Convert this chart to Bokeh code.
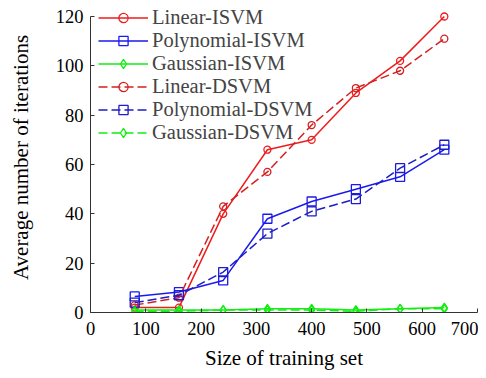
from bokeh.plotting import figure
from bokeh.models import Range1d, Legend, LegendItem, FixedTicker
from bokeh.embed import file_html
from bokeh.resources import INLINE

sizes = [80, 160, 240, 320, 400, 480, 560, 640]
linear_isvm = [2, 2, 40, 66, 70, 89, 102, 120]
poly_isvm = [6.5, 8.3, 13, 38, 45, 50, 55, 66]
gauss_isvm = [1, 1, 1, 1.5, 1.5, 1, 1.5, 2]
linear_dsvm = [3, 6, 43, 57, 76, 91, 98, 111]
poly_dsvm = [4, 7, 16.4, 32, 41, 46, 58.5, 68]
gauss_dsvm = [0.5, 0.5, 1, 1, 1, 0.5, 1.5, 1.5]

x_ticks = [0, 100, 200, 300, 400, 500, 600, 700]
y_ticks = [0, 20, 40, 60, 80, 100, 120]

FONT = "Liberation Serif"
RED = "#ee1c1c"
RED_D = "#d42020"
BLUE = "#1a1aee"
BLUE_D = "#1c1cc8"
GREEN = "#11ee11"

# frame: 310 px tall, with 296 px spanning 0..120 (axis drawn only to 120)
p = figure(width=478, height=378, output_backend="svg", toolbar_location=None,
           x_range=Range1d(0, 700), y_range=Range1d(0, 120 * 310 / 296),
           min_border_left=90, min_border_right=1, min_border_top=2, min_border_bottom=66)
p.outline_line_color = None
p.grid.grid_line_color = None
p.background_fill_color = "white"

for ax in (p.xaxis[0], p.yaxis[0]):
    ax.major_label_text_font = FONT
    ax.major_label_text_font_size = "18.5px"
    ax.major_label_text_color = "black"
    ax.axis_label_text_font = FONT
    ax.axis_label_text_font_size = "21px"
    ax.axis_label_text_font_style = "normal"
    ax.axis_label_text_color = "black"
    ax.major_tick_in = 4
    ax.major_tick_out = 0
    ax.minor_tick_line_color = None
    ax.axis_line_color = "#333333"
    ax.major_tick_line_color = "#333333"

p.xaxis.ticker = FixedTicker(ticks=x_ticks)
p.yaxis.ticker = FixedTicker(ticks=y_ticks)
p.yaxis.bounds = (0, 120)
p.xaxis.axis_label = "Size of training set"
p.yaxis.axis_label = "Average number of iterations"
p.xaxis.major_label_standoff = 9
p.yaxis.major_label_standoff = 7
p.xaxis.axis_label_standoff = 8
p.yaxis.axis_label_standoff = 20

lw = 1.5
dash = "9 4"

items = []
def series(y, color, marker, dashed, label, size):
    r1 = p.line(sizes, y, line_color=color, line_width=lw,
                line_dash=(dash if dashed else "solid"))
    r2 = p.scatter(sizes, y, marker=marker, size=size, line_color=color,
                   fill_alpha=0, line_width=1.3)
    items.append(LegendItem(label=label, renderers=[r1, r2]))

series(linear_isvm, RED, "circle", False, "Linear-ISVM", 7)
series(poly_isvm, BLUE, "square", False, "Polynomial-ISVM", 9)
series(gauss_isvm, GREEN, "diamond", False, "Gaussian-ISVM", 9)
series(linear_dsvm, RED_D, "circle", True, "Linear-DSVM", 7)
series(poly_dsvm, BLUE_D, "square", True, "Polynomial-DSVM", 9)
series(gauss_dsvm, GREEN, "diamond", True, "Gaussian-DSVM", 9)

legend = Legend(items=items, location=(8, 168), padding=0, margin=0, spacing=0,
                glyph_width=50, glyph_height=23, label_height=23, label_standoff=4,
                label_text_font=FONT, label_text_font_size="20.5px",
                border_line_color=None, background_fill_alpha=0.0)
p.add_layout(legend, "center")

open("out.html", "w").write(file_html(p, INLINE))
